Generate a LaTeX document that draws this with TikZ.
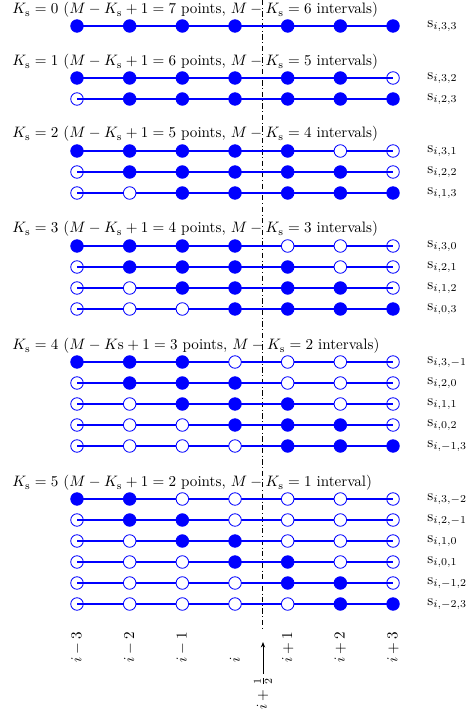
\documentclass[tikz,border=0pt]{standalone}
\usetikzlibrary{arrows.meta}
\definecolor{dotblue}{RGB}{0,0,255}
\tikzset{
  rowline/.style={draw=dotblue, line width=0.7pt},
  fulldot/.style={circle, draw=dotblue, fill=dotblue, line width=0.55pt, minimum size=8.3pt, inner sep=0pt},
  openend/.style={circle, draw=dotblue, line width=0.55pt, minimum size=8.3pt, inner sep=0pt},
  openmid/.style={circle, draw=dotblue, fill=white, line width=0.55pt, minimum size=8.3pt, inner sep=0pt},
  lab/.style={anchor=west, inner sep=0pt},
  head/.style={anchor=west, inner sep=0pt},
  axlab/.style={rotate=90, anchor=west, inner sep=0pt},
  midline/.style={draw=black, line width=0.5pt, dash pattern=on 3.5pt off 1.8pt on 0.5pt off 1.8pt},
}
\newcommand\srow[4]{%
  \foreach \k in {1,...,7} {\coordinate (p#1-\k) at ({77+(\k-1)*52.67}, #2);}
  \path[rowline] (p#1-1) -- (p#1-7);
  \foreach \v [count=\k] in {#3} {%
    \ifnum\v=1 \node[fulldot] (d#1-\k) at (p#1-\k) {};%
    \else\ifnum\k=1 \node[openend] (d#1-\k) at (p#1-\k) {};%
    \else\ifnum\k=7 \node[openend] (d#1-\k) at (p#1-\k) {};%
    \else \node[openmid] (d#1-\k) at (p#1-\k) {};%
    \fi\fi\fi
  }
  \node[lab] (l#1) at (427,#2) {$\mathrm{s}_{#4}$};
}
\begin{document}
\begin{tikzpicture}[x=0.662pt,y=-0.662pt]
\useasboundingbox (0,0) rectangle (468,713);
% dash-dot line
\coordinate (mtop) at (262,0);
\coordinate (mbot) at (262,628);
\draw[midline] (mtop) -- (mbot);
% headers
\node[head] (h0) at (12,10) {$K_\mathrm{s}=0$ ($M-K_\mathrm{s}+1=7$ points, $M-K_\mathrm{s}=6$ intervals)};
\node[head] (h1) at (12,62) {$K_\mathrm{s}=1$ ($M-K_\mathrm{s}+1=6$ points, $M-K_\mathrm{s}=5$ intervals)};
\node[head] (h2) at (12,134) {$K_\mathrm{s}=2$ ($M-K_\mathrm{s}+1=5$ points, $M-K_\mathrm{s}=4$ intervals)};
\node[head] (h3) at (12,229) {$K_\mathrm{s}=3$ ($M-K_\mathrm{s}+1=4$ points, $M-K_\mathrm{s}=3$ intervals)};
\node[head] (h4) at (12,346) {$K_\mathrm{s}=4$ ($M-K\mathrm{s}+1=3$ points, $M-K_\mathrm{s}=2$ intervals)};
\node[head] (h5) at (12,483) {$K_\mathrm{s}=5$ ($M-K_\mathrm{s}+1=2$ points, $M-K_\mathrm{s}=1$ interval)};
% rows
\srow{a}{26}{1,1,1,1,1,1,1}{i,3,3}
\srow{b}{78}{1,1,1,1,1,1,0}{i,3,2}
\srow{c}{99}{0,1,1,1,1,1,1}{i,2,3}
\srow{d}{151}{1,1,1,1,1,0,0}{i,3,1}
\srow{e}{172}{0,1,1,1,1,1,0}{i,2,2}
\srow{f}{193}{0,0,1,1,1,1,1}{i,1,3}
\srow{g}{246}{1,1,1,1,0,0,0}{i,3,0}
\srow{h}{267}{0,1,1,1,1,0,0}{i,2,1}
\srow{j}{288}{0,0,1,1,1,1,0}{i,1,2}
\srow{k}{309}{0,0,0,1,1,1,1}{i,0,3}
\srow{m}{362}{1,1,1,0,0,0,0}{i,3,-1}
\srow{n}{383}{0,1,1,1,0,0,0}{i,2,0}
\srow{o}{404}{0,0,1,1,1,0,0}{i,1,1}
\srow{q}{425}{0,0,0,1,1,1,0}{i,0,2}
\srow{r}{446}{0,0,0,0,1,1,1}{i,-1,3}
\srow{s}{499}{1,1,0,0,0,0,0}{i,3,-2}
\srow{t}{520}{0,1,1,0,0,0,0}{i,2,-1}
\srow{u}{541}{0,0,1,1,0,0,0}{i,1,0}
\srow{v}{562}{0,0,0,1,1,0,0}{i,0,1}
\srow{w}{583}{0,0,0,0,1,1,0}{i,-1,2}
\srow{y}{604}{0,0,0,0,0,1,1}{i,-2,3}
% axis labels
\node[axlab] (x1) at (77,663) {$i-3$};
\node[axlab] (x2) at (129.67,663) {$i-2$};
\node[axlab] (x3) at (182.33,663) {$i-1$};
\node[axlab] (x4) at (235,663) {$i$};
\node[axlab] (x5) at (287.67,663) {$i+1$};
\node[axlab] (x6) at (340.33,663) {$i+2$};
\node[axlab] (x7) at (393,663) {$i+3$};
% half-index arrow
\node[rotate=90, anchor=east, inner sep=0pt] (half) at (263,676) {$i+\frac{1}{2}$};
\coordinate (atip) at (263,642);
\draw[-{Stealth[length=3.6pt,width=2.8pt]}, line width=0.55pt] (half.east) ++(0,-2) -- (atip);
\end{tikzpicture}
\end{document}
